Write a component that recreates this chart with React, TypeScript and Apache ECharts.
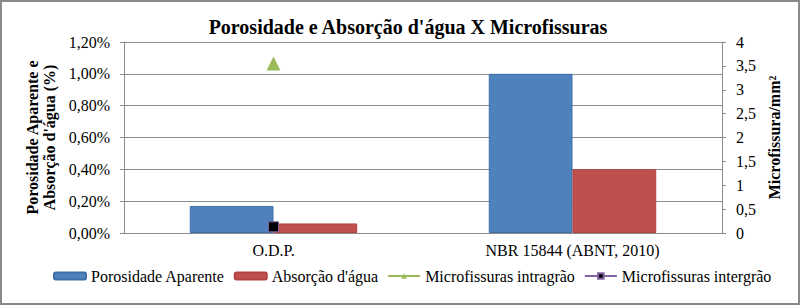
import React, { useEffect, useRef } from "react";
import * as echarts from "echarts";

const categories = ["O.D.P.", "NBR 15844 (ABNT, 2010)"];
const porosidade = [0.17, 1.0];
const absorcao = [0.06, 0.4];
const intragrao = [3.55, null];
const intergrao = [0.13, null];
const seriesNames = [
  "Porosidade Aparente",
  "Absorção d'água",
  "Microfissuras intragrão",
  "Microfissuras intergrão",
];

const FONT = "Liberation Serif";

export default function App() {
  const ref = useRef<HTMLDivElement>(null);
  useEffect(() => {
    document.body.style.margin = "0";
    const chart = echarts.init(ref.current!, null, { renderer: "svg" });
    const gray = "#8c8c8c";
    chart.setOption({
      animation: false,
      textStyle: { fontFamily: FONT },
      title: {
        text: "Porosidade e Absorção d'água X Microfissuras",
        left: 403,
        textAlign: "center",
        top: 12,
        textStyle: { fontFamily: FONT, fontSize: 20, fontWeight: "bold", color: "#000" },
      },
      graphic: [
        {
          type: "rect",
          shape: { x: 1, y: 1, width: 798, height: 303 },
          style: { fill: "none", stroke: "#8a8a8a", lineWidth: 2 },
          silent: true,
        },
      ],
      grid: { left: 124, right: 78, top: 42, bottom: 72 },
      legend: {
        bottom: 16,
        left: 48,
        itemWidth: 32,
        itemHeight: 7,
        itemGap: 9,
        textStyle: { fontFamily: FONT, fontSize: 16, color: "#000" },
        data: seriesNames,
      },
      xAxis: {
        type: "category",
        data: categories,
        axisLine: { lineStyle: { color: gray } },
        axisTick: { length: 5, lineStyle: { color: gray } },
        axisLabel: { fontFamily: FONT, fontSize: 16, color: "#000", margin: 9 },
      },
      yAxis: [
        {
          type: "value",
          min: 0,
          max: 1.2,
          interval: 0.2,
          name: "Porosidade Aparente e\nAbsorção d'água (%)",
          nameLocation: "middle",
          nameRotate: 90,
          nameGap: 63,
          nameTextStyle: { fontFamily: FONT, fontSize: 16, fontWeight: "bold", color: "#000", lineHeight: 17 },
          axisLine: { show: true, lineStyle: { color: gray } },
          axisTick: { show: true, length: 4, lineStyle: { color: gray } },
          splitLine: { lineStyle: { color: gray } },
          axisLabel: {
            fontFamily: FONT,
            fontSize: 16,
            color: "#000",
            margin: 14,
            formatter: (v: number) => v.toFixed(2).replace(".", ",") + "%",
          },
        },
        {
          type: "value",
          min: 0,
          max: 4,
          interval: 0.5,
          position: "right",
          name: "Microfissura/mm²",
          nameLocation: "middle",
          nameRotate: 90,
          nameGap: 40,
          nameTextStyle: { fontFamily: FONT, fontSize: 16, fontWeight: "bold", color: "#000" },
          axisLine: { show: true, lineStyle: { color: gray } },
          axisTick: { show: true, length: 4, lineStyle: { color: gray } },
          splitLine: { show: false },
          axisLabel: {
            fontFamily: FONT,
            fontSize: 16,
            color: "#000",
            margin: 14,
            formatter: (v: number) => String(v).replace(".", ","),
          },
        },
      ],
      series: [
        {
          name: seriesNames[0],
          type: "bar",
          data: porosidade,
          yAxisIndex: 0,
          barGap: "0%",
          barCategoryGap: "44%",
          itemStyle: { color: "#4F81BD", borderColor: "#3f6fa8", borderWidth: 1 },
        },
        {
          name: seriesNames[1],
          type: "bar",
          data: absorcao,
          yAxisIndex: 0,
          barGap: "0%",
          barCategoryGap: "44%",
          itemStyle: { color: "#C0504D", borderColor: "#b04340", borderWidth: 1 },
        },
        {
          name: seriesNames[2],
          type: "line",
          data: intragrao,
          yAxisIndex: 1,
          symbol: "triangle",
          symbolSize: 14,
          lineStyle: { color: "#9BBB59", width: 3 },
          itemStyle: { color: "#9BBB59" },
          z: 5,
        },
        {
          name: seriesNames[3],
          type: "line",
          data: intergrao,
          yAxisIndex: 1,
          symbol: "rect",
          symbolSize: 10,
          lineStyle: { color: "#8064A2", width: 3 },
          itemStyle: { color: "#000", borderColor: "#8064A2", borderWidth: 1 },
          z: 6,
        },
      ],
    });
    return () => chart.dispose();
  }, []);
  return (
    <>
      <style>{`.serif-chart text { font-family: 'Liberation Serif', 'Times New Roman', serif !important; }`}</style>
      <div className="serif-chart" ref={ref} style={{ width: 800, height: 305 }} />
    </>
  );
}
